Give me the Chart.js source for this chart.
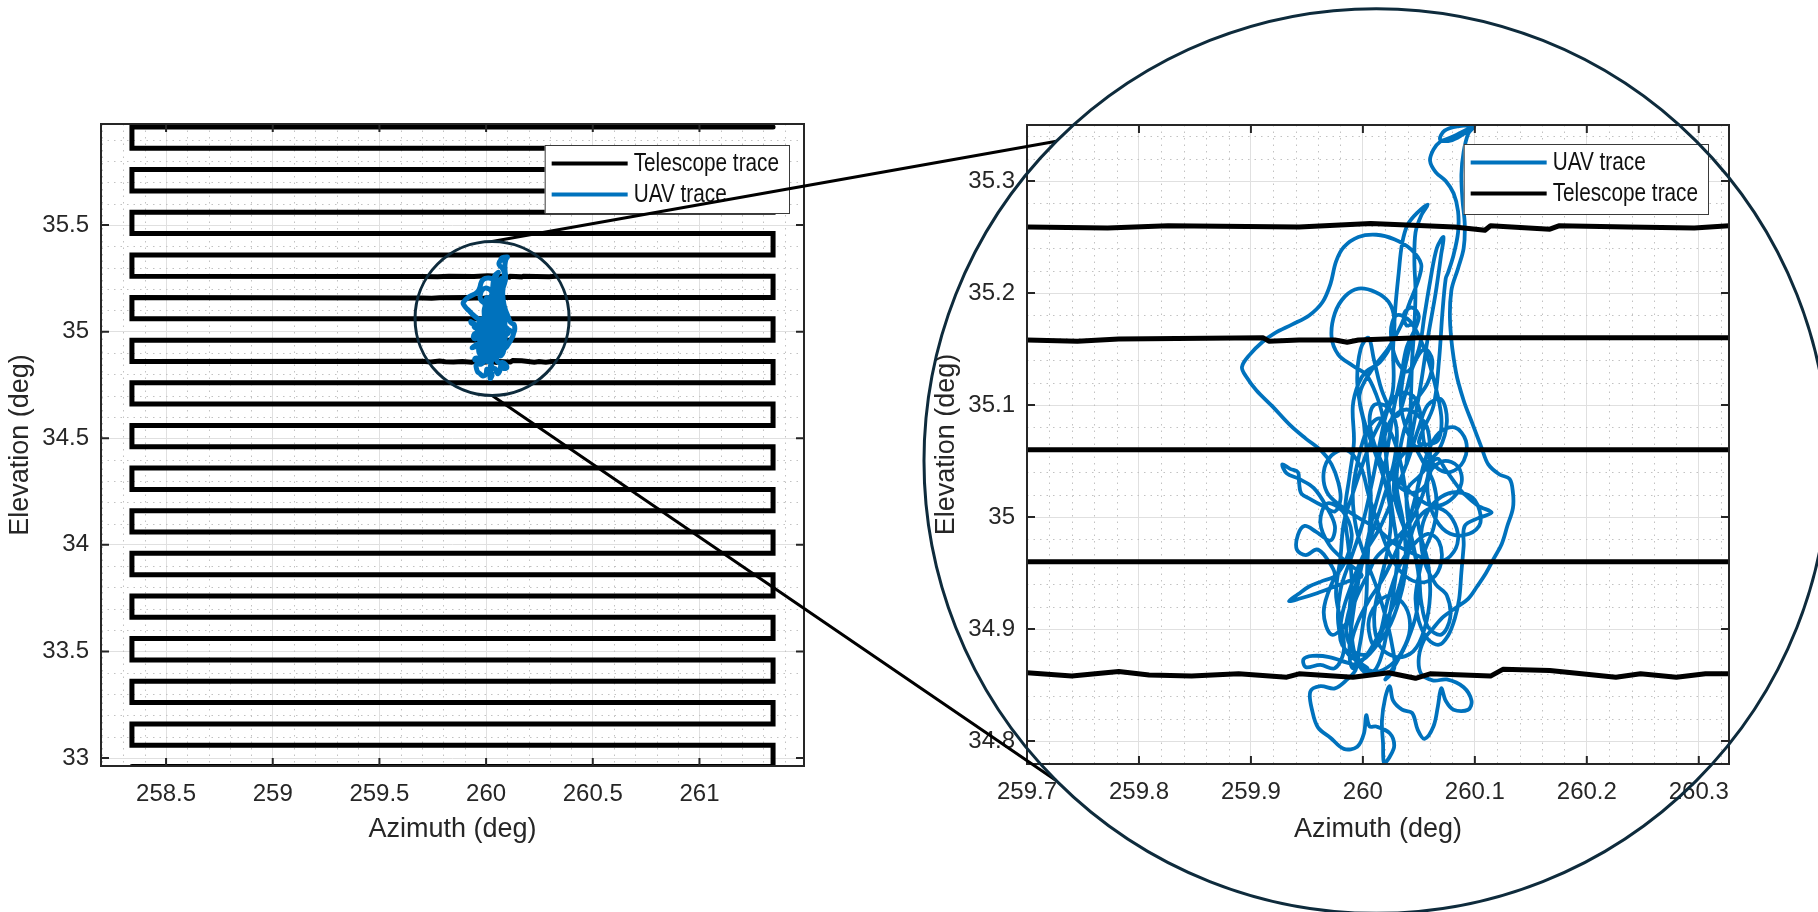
<!DOCTYPE html>
<html>
<head>
<meta charset="utf-8">
<title>Telescope raster scan and UAV trace</title>
<script src="https://cdn.jsdelivr.net/npm/chart.js@4.4.1/dist/chart.umd.min.js"></script>
<style>
  html, body { margin: 0; padding: 0; background: #ffffff; overflow: hidden; }
  #stage { position: relative; width: 1818px; height: 912px; }
  #stage canvas { position: absolute; left: 0; top: 0; }
</style>
</head>
<body>
<div id="stage">
  <canvas id="overview" width="1818" height="912"></canvas>
  <canvas id="detail" width="1818" height="912"></canvas>
</div>
<script>
// ---------------------------------------------------------------------------
// Data
// ---------------------------------------------------------------------------

// Raster scan of the telescope: one row per elevation, alternating direction.
const scanRowEl = [32.96, 33.06, 33.16, 33.26, 33.36, 33.46, 33.56, 33.66, 33.76, 33.86,
                   33.96, 34.06, 34.16, 34.26, 34.36, 34.46, 34.56, 34.66, 34.76, 34.86,
                   34.96, 35.06, 35.16, 35.26, 35.36, 35.46, 35.56, 35.66, 35.76, 35.86, 35.96];
const scanLeftAz = 258.34;
const scanRightAz = 261.345;

// Pointing jitter recorded along three rows near the target [az, el]
const row3486 = [[259.700,34.861],[259.740,34.858],[259.782,34.862],[259.809,34.859],[259.847,34.858],
                 [259.889,34.860],[259.932,34.857],[259.943,34.860],[259.991,34.857],[260.023,34.861],
                 [260.047,34.856],[260.060,34.860],[260.114,34.858],[260.125,34.864],[260.167,34.863],
                 [260.226,34.857],[260.248,34.860],[260.280,34.857],[260.306,34.860],[260.327,34.860]];
const row3516 = [[259.700,35.158],[259.745,35.157],[259.782,35.159],[259.911,35.160],[259.916,35.157],
                 [259.943,35.158],[259.975,35.158],[259.986,35.156],[259.996,35.158],[260.050,35.160],
                 [260.327,35.160]];
const row3526 = [[259.700,35.259],[259.772,35.258],[259.826,35.260],[259.943,35.259],[260.007,35.262],
                 [260.082,35.259],[260.109,35.256],[260.114,35.260],[260.167,35.257],[260.175,35.260],
                 [260.237,35.259],[260.296,35.258],[260.327,35.260]];
const rowJitter = { '34.86': row3486, '35.16': row3516, '35.26': row3526 };

// UAV position track [az, el]
const uavTrace = [
  [260.100,35.350],[260.086,35.349],[260.073,35.345],[260.069,35.337],[260.078,35.336],[260.090,35.342],
  [260.099,35.348],[260.094,35.342],[260.090,35.326],[260.088,35.306],[260.089,35.283],[260.091,35.261],
  [260.090,35.240],[260.085,35.222],[260.079,35.202],[260.078,35.171],[260.083,35.130],[260.090,35.104],
  [260.098,35.083],[260.106,35.062],[260.112,35.047],[260.122,35.038],[260.131,35.034],[260.134,35.022],
  [260.134,35.008],[260.129,34.992],[260.124,34.976],[260.117,34.963],[260.110,34.950],[260.102,34.938],
  [260.094,34.927],[260.083,34.919],[260.072,34.911],[260.063,34.901],
  [260.055,34.891],[260.050,34.875],[260.052,34.860],[260.063,34.854],[260.075,34.855],[260.090,34.848],
  [260.097,34.836],[260.094,34.828],[260.081,34.828],[260.074,34.836],[260.070,34.847],[260.067,34.831],
  [260.063,34.813],[260.055,34.802],[260.049,34.810],[260.044,34.825],[260.035,34.828],[260.027,34.836],
  [260.024,34.849],
  [260.020,34.839],[260.017,34.818],[260.018,34.798],[260.019,34.780],[260.024,34.786],[260.028,34.796],
  [260.024,34.807],[260.012,34.813],[260.006,34.813],[260.003,34.823],[260.001,34.807],[259.995,34.795],
  [259.983,34.793],[259.971,34.803],[259.960,34.812],[259.955,34.826],[259.953,34.844],[259.962,34.849],
  [259.975,34.847],[259.986,34.855],[259.994,34.865],
  [259.991,34.886],[259.988,34.912],[259.990,34.943],[259.987,34.974],[259.984,35.005],[259.988,35.036],
  [259.992,35.067],[259.991,35.099],[259.996,35.119],[260.003,35.130],
  [260.015,35.138],[260.026,35.156],[260.028,35.177],[260.023,35.192],[260.011,35.201],[259.996,35.204],
  [259.984,35.197],[259.975,35.182],[259.972,35.161],[259.978,35.145],[259.991,35.135],[260.003,35.127],
  [260.012,35.109],[260.018,35.088],
  [260.020,35.062],[260.023,35.031],[260.027,35.000],[260.031,34.969],[260.028,34.938],[260.023,34.907],
  [260.018,34.881],[260.012,34.865],[260.004,34.860],[259.996,34.870],[259.999,34.896],[260.003,34.927],
  [260.004,34.958],[260.006,34.990],[260.007,35.021],[260.004,35.052],[260.001,35.083],[259.997,35.109],
  [260.007,35.130],[260.023,35.151],[260.034,35.171],[260.042,35.192],[260.050,35.213],[260.052,35.226],
  [260.043,35.239],[260.028,35.248],[260.012,35.252],[259.996,35.250],[259.983,35.241],[259.976,35.228],
  [259.971,35.208],[259.964,35.192],[259.952,35.180],[259.937,35.172],[259.921,35.164],[259.910,35.156],
  [259.899,35.145],[259.892,35.134],[259.896,35.125],[259.905,35.113],[259.919,35.099],[259.935,35.082],
  [259.949,35.070],[259.963,35.059],[259.972,35.047],[259.978,35.031],[259.980,35.016],
  [259.975,35.005],[259.964,35.010],[259.953,35.016],[259.945,35.021],[259.943,35.031],[259.942,35.040],
  [259.935,35.043],[259.928,35.047],[259.932,35.039],[259.943,35.034],[259.956,35.026],[259.967,35.010],
  [259.975,34.992],[259.971,34.979],[259.958,34.987],[259.948,34.992],[259.942,34.984],[259.941,34.971],
  [259.949,34.966],[259.959,34.971],[259.967,34.964],[259.975,34.948],[259.964,34.943],[259.952,34.938],
  [259.942,34.931],[259.934,34.925],[259.943,34.927],[259.959,34.932],[259.975,34.938],[259.988,34.943],
  [259.999,34.948],
  [259.985,34.960],[259.970,34.975],[259.962,34.995],[259.968,35.012],[259.982,35.005],[259.990,34.985],
  [259.985,34.962],[259.972,34.940],[259.965,34.915],[259.972,34.895],[259.985,34.905],[259.995,34.930],
  [260.005,34.950],
  [260.012,34.964],[260.028,34.979],[260.042,34.995],[260.052,35.016],[260.058,35.036],[260.060,35.057],
  [260.058,35.078],[260.052,35.088],[260.039,35.096],[260.026,35.088],[260.018,35.067],[260.015,35.047],
  [260.030,35.035],[260.045,35.020],[260.062,35.010],[260.078,35.015],[260.088,35.030],[260.085,35.045],
  [260.072,35.050],[260.060,35.040],[260.058,35.020],[260.065,34.998],[260.078,34.985],[260.095,34.985],
  [260.105,34.995],[260.100,35.015],[260.085,35.022],[260.070,35.018],[260.058,35.005],[260.052,34.985],
  [260.055,34.960],[260.065,34.940],[260.075,34.930],[260.078,34.910],[260.070,34.895],[260.058,34.902],
  [260.052,34.925],[260.050,34.950],[260.045,34.975],[260.040,35.000],[260.040,35.025],
  [260.050,35.036],[260.066,35.052],[260.074,35.042],[260.082,35.031],[260.090,35.021],[260.103,35.010],
  [260.115,35.004],[260.103,34.999],[260.091,34.992],[260.090,34.974],[260.088,34.951],[260.086,34.927],
  [260.082,34.909],[260.076,34.894],[260.068,34.886],[260.058,34.891],[260.050,34.907],[260.047,34.927],
  [260.050,34.948],[260.055,34.969],[260.063,34.990],[260.066,35.010],[260.063,35.031],[260.055,35.047],
  [260.047,35.062],[260.039,35.078],[260.034,35.099],[260.035,35.119],[260.039,35.140],[260.044,35.161],
  [260.050,35.179],[260.044,35.187],[260.037,35.182],[260.039,35.171],[260.048,35.173],
  [260.039,35.151],[260.034,35.125],[260.028,35.099],[260.023,35.067],[260.018,35.036],[260.010,35.005],
  [260.003,34.974],[259.996,34.943],[259.991,34.912],[259.988,34.881],[259.991,34.865],[260.002,34.875],
  [260.012,34.891],[260.023,34.912],[260.034,34.938],[260.039,34.964],[260.042,34.990],[260.039,35.016],
  [260.034,35.047],[260.026,35.073],[260.015,35.088],[260.004,35.078],[259.996,35.052],[259.991,35.021],
  [259.994,34.990],[260.002,34.964],[260.012,34.938],[260.020,34.912],[260.026,34.886],[260.028,34.865],
  [260.020,34.855],
  [260.030,34.870],[260.040,34.890],[260.048,34.915],[260.050,34.945],[260.044,34.975],[260.035,34.995],
  [260.028,35.020],[260.030,35.045],[260.040,35.060],[260.052,35.062],[260.060,35.050],[260.058,35.032],
  [260.047,35.022],[260.035,35.025],[260.022,35.040],[260.012,35.060],[260.006,35.085],[260.010,35.100],
  [260.022,35.098],[260.030,35.080],[260.028,35.050],[260.018,35.015],[260.008,34.985],[259.998,34.955],
  [259.990,34.925],[259.985,34.900],[259.992,34.880],[260.005,34.878],[260.015,34.895],[260.022,34.925],
  [260.032,34.955],[260.045,34.975],[260.058,34.985],[260.068,34.978],[260.070,34.960],[260.062,34.945],
  [260.048,34.942],[260.035,34.950],[260.025,34.965],[260.015,34.990],[260.005,35.020],[259.998,35.045],
  [259.985,35.060],[259.972,35.055],[259.965,35.040],[259.968,35.022],[259.980,35.010],[259.995,35.000],
  [260.012,34.990],[260.030,34.975],[260.050,34.965],[260.065,34.960],[260.078,34.965],[260.085,34.980],
  [260.080,34.998],[260.068,35.008],[260.055,35.005],[260.045,34.990],[260.040,34.965],[260.035,34.935],
  [260.025,34.905],[260.012,34.885],[259.998,34.872],[259.985,34.880],[259.978,34.905],[259.980,34.935],
  [259.990,34.965],[260.000,34.995],[260.008,35.030],[260.015,35.065],[260.022,35.095],[260.032,35.110],
  [260.045,35.108],[260.052,35.090],[260.055,35.065],[260.065,35.045],[260.078,35.040],[260.090,35.050],
  [260.092,35.068],[260.082,35.080],[260.068,35.075],[260.058,35.058],[260.050,35.030],[260.042,35.000],
  [260.030,34.970],[260.018,34.945],[260.005,34.925],[259.995,34.905],[259.990,34.885],[259.998,34.868],
  [260.012,34.862],[260.025,34.868],[260.035,34.880],[260.042,34.900],[260.038,34.920],[260.025,34.930],
  [260.012,34.922],[260.005,34.905],[260.010,34.885],
  [260.018,34.900],[260.030,34.930],[260.038,34.962],[260.036,34.995],[260.030,35.030],[260.035,35.070],
  [260.045,35.100],[260.058,35.120],[260.062,35.140],[260.055,35.150],[260.045,35.135],[260.038,35.110],
  [260.030,35.090],[260.018,35.110],[260.010,35.140],[260.005,35.160],[259.998,35.150],[259.995,35.120],
  [260.000,35.090],[260.010,35.060],[260.020,35.030],[260.025,35.000],[260.022,34.970],[260.015,34.940],
  [260.010,34.910],[260.015,34.885],[260.030,34.875],[260.045,34.880],[260.055,34.900],[260.060,34.930],
  [260.058,34.960],[260.050,34.990],[260.048,35.020],[260.055,35.045],[260.068,35.060],[260.075,35.085],
  [260.070,35.105],[260.058,35.100],[260.050,35.080],[260.040,35.050],[260.028,35.020],[260.015,34.990],
  [260.000,34.965],[259.990,34.940],[259.982,34.915],[259.980,34.890],[259.990,34.875],
  [260.004,34.865],[259.986,34.870],[259.970,34.875],[259.955,34.876],[259.947,34.873],[259.949,34.866],
  [259.962,34.868],[259.975,34.865],[259.983,34.881],[259.980,34.907],[259.976,34.932],[259.980,34.964],
  [259.983,34.995],[259.991,35.021],[260.007,35.067],
  [260.026,35.109],[260.027,35.151],[260.029,35.187],[260.032,35.218],[260.035,35.244],[260.040,35.261],
  [260.049,35.272],[260.058,35.279],[260.052,35.269],[260.047,35.254],[260.046,35.228],[260.047,35.202],
  [260.046,35.171],[260.044,35.140],[260.043,35.109],[260.042,35.078],[260.039,35.047],
  [260.045,35.080],[260.052,35.120],[260.058,35.160],[260.065,35.200],[260.070,35.235],[260.072,35.250],
  [260.066,35.240],[260.060,35.210],[260.055,35.180],[260.050,35.150],[260.040,35.130],[260.030,35.140],
  [260.025,35.165],[260.030,35.180],[260.042,35.175],[260.055,35.150],[260.064,35.120],[260.070,35.090],
  [260.068,35.070],[260.060,35.065],
  [260.050,35.067],[260.063,35.099],[260.068,35.140],[260.071,35.182],[260.074,35.213],
  [260.076,35.218],[260.081,35.234],[260.085,35.254],[260.085,35.273],[260.081,35.289],[260.074,35.300],
  [260.065,35.308],[260.060,35.318],[260.063,35.328],[260.069,35.335],[260.079,35.339],[260.095,35.347]
];

// Axis limits and tick values
const overviewAzRange = [258.195, 261.49];
const overviewElRange = [32.9625, 35.974];
const overviewAzTicks = [258.5, 259, 259.5, 260, 260.5, 261];
const overviewElTicks = [33, 33.5, 34, 34.5, 35, 35.5];

const detailAzRange = [259.7, 260.327];
const detailElRange = [34.7795, 35.35];
const detailAzTicks = [259.7, 259.8, 259.9, 260, 260.1, 260.2, 260.3];
const detailElTicks = [34.8, 34.9, 35, 35.1, 35.2, 35.3];

// Magnifier: region circled on the overview and the lens drawn around the detail [az, el, radius]
const zoomRegion = [260.028, 35.062, 0.361];
const lensRegion = [260.012, 35.050, 0.404];

// ---------------------------------------------------------------------------
// Series construction
// ---------------------------------------------------------------------------
const telescopeTrace = [];
scanRowEl.forEach((el, k) => {
  const jitter = rowJitter[el.toFixed(2)] || [];
  const pts = [[scanLeftAz, el], ...jitter, [scanRightAz, el]];
  if (k % 2 === 1) pts.reverse();
  pts.forEach(p => telescopeTrace.push({ x: p[0], y: p[1] }));
});
const uavPoints = uavTrace.map(p => ({ x: p[0], y: p[1] }));

// ---------------------------------------------------------------------------
// Styling helpers
// ---------------------------------------------------------------------------
const FONT = '"Liberation Sans", Arial, Helvetica, sans-serif';
const INK = '#262626';
const UAV_BLUE = '#0072bd';
const LENS = '#0e2b3c';

Chart.defaults.font.family = FONT;

function minorSteps(min, max, step, major) {
  const out = [];
  for (let i = Math.ceil(min / step - 1e-9); i * step <= max + 1e-9; i++) {
    const v = Math.round(i * step * 1e6) / 1e6;
    const r = v / major;
    if (Math.abs(r - Math.round(r)) < 1e-6) continue;
    out.push(v);
  }
  return out;
}

// Box, inward ticks on all sides, dotted minor grid and an in-axes legend
const matlabAxes = {
  id: 'matlabAxes',
  beforeDatasetsDraw(chart, args, opts) {
    const { ctx, chartArea: a, scales: { x, y } } = chart;
    ctx.save();
    ctx.beginPath();
    ctx.rect(a.left, a.top, a.width, a.height);
    ctx.clip();
    ctx.strokeStyle = '#c2c2c2';
    ctx.lineWidth = 1;
    ctx.setLineDash([1.5, 5]);
    minorSteps(x.min, x.max, opts.minorX, opts.majorX).forEach(v => {
      const px = Math.round(x.getPixelForValue(v)) + 0.5;
      ctx.beginPath(); ctx.moveTo(px, a.top); ctx.lineTo(px, a.bottom); ctx.stroke();
    });
    minorSteps(y.min, y.max, opts.minorY, opts.majorY).forEach(v => {
      const py = Math.round(y.getPixelForValue(v)) + 0.5;
      ctx.beginPath(); ctx.moveTo(a.left, py); ctx.lineTo(a.right, py); ctx.stroke();
    });
    ctx.restore();
  },
  afterDatasetsDraw(chart, args, opts) {
    const { ctx, chartArea: a, scales: { x, y } } = chart;
    ctx.save();
    ctx.strokeStyle = INK;
    ctx.lineWidth = 2;
    const tl = 8;
    x.ticks.forEach(t => {
      const px = x.getPixelForValue(t.value);
      ctx.beginPath();
      ctx.moveTo(px, a.bottom); ctx.lineTo(px, a.bottom - tl);
      ctx.moveTo(px, a.top); ctx.lineTo(px, a.top + tl);
      ctx.stroke();
    });
    y.ticks.forEach(t => {
      const py = y.getPixelForValue(t.value);
      ctx.beginPath();
      ctx.moveTo(a.left, py); ctx.lineTo(a.left + tl, py);
      ctx.moveTo(a.right, py); ctx.lineTo(a.right - tl, py);
      ctx.stroke();
    });
    ctx.strokeRect(a.left, a.top, a.width, a.height);

    // legend
    const lg = opts.legend;
    const items = chart.data.datasets.map(d => ({ label: d.label, color: d.borderColor }));
    const squeeze = 0.83;
    ctx.font = `25px ${FONT}`;
    const tw = Math.max(...items.map(it => ctx.measureText(it.label).width)) * squeeze;
    const w = 89 + tw + 10;
    const x0 = a.right - lg.right - w;
    const y0 = a.top + lg.top;
    ctx.fillStyle = '#ffffff';
    ctx.fillRect(x0, y0, w, lg.height);
    ctx.strokeStyle = '#3a3a3a';
    ctx.lineWidth = 1;
    ctx.strokeRect(x0 + 0.5, y0 + 0.5, w, lg.height);
    items.forEach((it, i) => {
      const yy = y0 + 18.5 + i * 31;
      ctx.strokeStyle = it.color;
      ctx.lineWidth = 4;
      ctx.beginPath(); ctx.moveTo(x0 + 7, yy); ctx.lineTo(x0 + 83, yy); ctx.stroke();
      ctx.save();
      ctx.translate(x0 + 89, yy + 1);
      ctx.scale(squeeze, 1);
      ctx.fillStyle = '#111111';
      ctx.textBaseline = 'middle';
      ctx.textAlign = 'left';
      ctx.fillText(it.label, 0, 0);
      ctx.restore();
    });
    ctx.restore();
  }
};

function axisOptions(range, ticks, title, isX, fit, titlePad) {
  return {
    type: 'linear',
    position: isX ? 'bottom' : 'left',
    min: range[0],
    max: range[1],
    bounds: 'data',
    afterBuildTicks: s => { s.ticks = ticks.map(v => ({ value: v })); },
    afterFit: s => { if (isX) s.height = fit; else s.width = fit; },
    ticks: {
      callback: v => String(v),
      autoSkip: false,
      maxRotation: 0,
      minRotation: 0,
      padding: isX ? 14 : 12,
      color: INK,
      font: { family: FONT, size: 24 }
    },
    grid: { color: '#e0e0e0', lineWidth: 1, drawTicks: false },
    border: { display: false },
    title: {
      display: true,
      text: title,
      color: INK,
      font: { family: FONT, size: 27 },
      padding: titlePad
    }
  };
}

function buildChart(canvasId, cfg) {
  return new Chart(document.getElementById(canvasId), {
    type: 'scatter',
    data: { datasets: cfg.datasets },
    options: {
      responsive: false,
      animation: false,
      events: [],
      layout: { padding: cfg.padding },
      plugins: {
        legend: { display: false },
        tooltip: { enabled: false },
        matlabAxes: cfg.axes
      },
      scales: {
        x: axisOptions(cfg.xRange, cfg.xTicks, 'Azimuth (deg)', true, cfg.xAxisHeight, { top: 0, bottom: 66 }),
        y: axisOptions(cfg.yRange, cfg.yTicks, 'Elevation (deg)', false, cfg.yAxisWidth, { top: 4, bottom: 0 })
      }
    },
    plugins: cfg.plugins
  });
}

function lineSet(label, data, color, width, order, join, tension) {
  return {
    label, data, order,
    showLine: true,
    borderColor: color,
    backgroundColor: color,
    borderWidth: width,
    pointRadius: 0,
    fill: false,
    tension: tension,
    borderJoinStyle: join,
    borderCapStyle: 'round'
  };
}

// Overview of the full raster scan
const overviewChart = buildChart('overview', {
  datasets: [
    lineSet('Telescope trace', telescopeTrace, '#000000', 5, 2, 'miter', 0),
    lineSet('UAV trace', uavPoints, UAV_BLUE, 5, 1, 'round', 0.35)
  ],
  padding: { left: 0, top: 124, right: 1014, bottom: 0 },
  yAxisWidth: 101,
  xAxisHeight: 146,
  xRange: overviewAzRange, yRange: overviewElRange,
  xTicks: overviewAzTicks, yTicks: overviewElTicks,
  axes: { minorX: 0.1, majorX: 0.5, minorY: 0.1, majorY: 0.5,
          legend: { right: 15, top: 21, height: 68 } },
  plugins: [matlabAxes]
});

// Magnifier lens: circles plus the two connector lines
const lensOverlay = {
  id: 'lensOverlay',
  afterDraw(chart) {
    const ctx = chart.ctx;
    const ox = overviewChart.scales.x, oy = overviewChart.scales.y;
    const sx = ox.getPixelForValue(zoomRegion[0]);
    const sy = oy.getPixelForValue(zoomRegion[1]);
    const sr = ox.getPixelForValue(zoomRegion[0] + zoomRegion[2]) - sx;
    const dx = chart.scales.x, dy = chart.scales.y;
    const bx = dx.getPixelForValue(lensRegion[0]);
    const by = dy.getPixelForValue(lensRegion[1]);
    const br = dx.getPixelForValue(lensRegion[0] + lensRegion[2]) - bx;
    const k = Math.SQRT1_2;
    ctx.save();
    ctx.strokeStyle = '#000000';
    ctx.lineWidth = 3;
    ctx.beginPath();
    ctx.moveTo(sx, sy - sr); ctx.lineTo(bx - br * k, by - br * k);
    ctx.moveTo(sx, sy + sr); ctx.lineTo(bx - br * k, by + br * k);
    ctx.stroke();
    ctx.strokeStyle = LENS;
    ctx.lineWidth = 3;
    ctx.beginPath(); ctx.arc(sx, sy, sr, 0, Math.PI * 2); ctx.stroke();
    ctx.beginPath(); ctx.arc(bx, by, br, 0, Math.PI * 2); ctx.stroke();
    ctx.restore();
  }
};

// Close-up around the UAV
buildChart('detail', {
  datasets: [
    lineSet('UAV trace', uavPoints, UAV_BLUE, 3.8, 2, 'round', 0.35),
    lineSet('Telescope trace', telescopeTrace, '#000000', 5, 1, 'round', 0)
  ],
  padding: { left: 926, top: 125, right: 89, bottom: 0 },
  yAxisWidth: 101,
  xAxisHeight: 148,
  xRange: detailAzRange, yRange: detailElRange,
  xTicks: detailAzTicks, yTicks: detailElTicks,
  axes: { minorX: 0.02, majorX: 0.1, minorY: 0.02, majorY: 0.1,
          legend: { right: 21, top: 19, height: 70 } },
  plugins: [matlabAxes, lensOverlay]
});
</script>
</body>
</html>
